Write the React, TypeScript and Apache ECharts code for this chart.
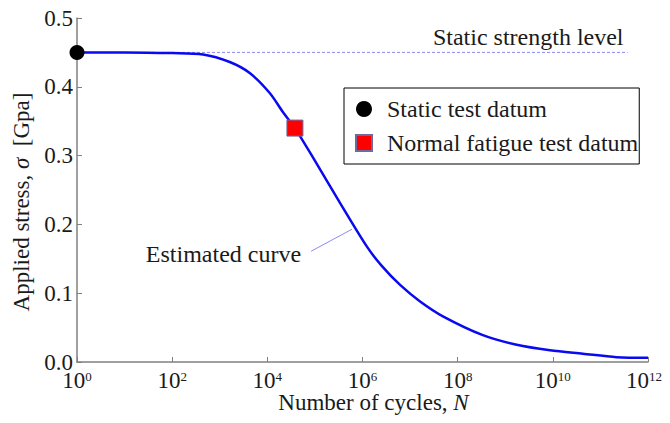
import React, { useEffect, useRef } from "react";
import * as echarts from "echarts";

// Estimated S-N curve: exponent of N (N = 10^exp) and applied stress [GPa]
const curveExp = [0, 1, 2, 2.65, 3.21, 3.63, 4.05, 4.33, 4.58, 5.03, 5.53, 6.09, 6.4, 6.79, 7.21, 7.7, 8.53, 9.24, 9.94, 10.63, 11.34, 12];
const curveStress = [0.45, 0.45, 0.449, 0.447, 0.436, 0.42, 0.391, 0.363, 0.34, 0.289, 0.231, 0.168, 0.14, 0.112, 0.088, 0.066, 0.039, 0.025, 0.017, 0.012, 0.007, 0.006];

// Test data
const staticExp = [0];
const staticStress = [0.45];
const fatigueExp = [4.58];
const fatigueStress = [0.34];

// Static strength level line
const staticLevel = 0.45;
const staticLineExp = [0, 11.57];

// Leader line for "Estimated curve"
const leaderExp = [4.92, 5.78];
const leaderStress = [0.161, 0.193];

// Axis ticks
const xTickExp = [0, 2, 4, 6, 8, 10, 12];
const yTicks = [0, 0.1, 0.2, 0.3, 0.4, 0.5];

const FONT = "Liberation Serif";
const TXT = "#1a1a1a";

const toN = (e: number) => Math.pow(10, e);

export default function App() {
  const ref = useRef<HTMLDivElement>(null);
  useEffect(() => {
    if (!ref.current) return;
    const chart = echarts.init(ref.current, null, { renderer: "svg" });
    const curve = curveExp.map((e, i) => [toN(e), curveStress[i]]);
    const lastExp = xTickExp[xTickExp.length - 1];
    const option = {
      animation: false,
      backgroundColor: "#fff",
      grid: { left: 77, right: 22, top: 18, bottom: 61, containLabel: false },
      legend: {
        left: 344,
        top: 88,
        orient: "vertical",
        padding: [9, 1, 9, 11],
        itemGap: 10,
        itemWidth: 16,
        itemHeight: 16,
        borderColor: "#000",
        borderWidth: 1,
        backgroundColor: "#fff",
        textStyle: { fontFamily: FONT, fontSize: 24, color: TXT, padding: [0, 0, 0, 10] },
        data: ["Static test datum", "Normal fatigue test datum"],
      },
      xAxis: {
        type: "log",
        logBase: 10,
        min: toN(xTickExp[0]),
        max: toN(lastExp),
        interval: 2,
        name: "{a|Number of cycles, }{i|N}",
        nameLocation: "middle",
        nameGap: 30,
        nameMoveOverlap: false,
        nameTextStyle: {
          padding: [0, 0, 0, 22],
          rich: {
            a: { fontFamily: FONT, fontSize: 23, color: TXT, lineHeight: 20 },
            i: { fontFamily: FONT, fontSize: 23, color: TXT, fontStyle: "italic", lineHeight: 20 },
          },
        },
        axisLine: { lineStyle: { color: "#808080", width: 1.5 } },
        axisTick: { inside: true, length: 5, lineStyle: { color: "#808080" } },
        splitLine: { show: false },
        minorTick: { show: false },
        axisLabel: {
          margin: 8,
          showMinLabel: true,
          showMaxLabel: true,
          formatter: (v: number) => {
            const e = Math.round(Math.log10(v));
            return e === lastExp ? `{b|10}{t|${e}}` : `{b|10}{s|${e}}`;
          },
          rich: {
            b: { fontFamily: FONT, fontSize: 23, color: TXT, lineHeight: 21 },
            s: { fontFamily: FONT, fontSize: 13, color: TXT, verticalAlign: "top" },
            t: { fontFamily: FONT, fontSize: 13, color: TXT, verticalAlign: "top", padding: [0, 8, 0, 0] },
          },
        },
      },
      yAxis: {
        type: "value",
        min: yTicks[0],
        max: yTicks[yTicks.length - 1],
        interval: 0.1,
        name: "{a|Applied stress, }{i|σ}{a|  [Gpa]}",
        nameLocation: "middle",
        nameGap: 44,
        nameMoveOverlap: false,
        nameTextStyle: {
          padding: [0, 24, 0, 0],
          rich: {
            a: { fontFamily: FONT, fontSize: 23, color: TXT },
            i: { fontFamily: FONT, fontSize: 23, color: TXT, fontStyle: "italic" },
          },
        },
        axisLine: { show: true, lineStyle: { color: "#808080", width: 1.5 } },
        axisTick: { show: true, inside: true, length: 5, lineStyle: { color: "#808080" } },
        splitLine: { show: false },
        axisLabel: {
          margin: 4,
          fontFamily: FONT,
          fontSize: 23,
          lineHeight: 16,
          color: TXT,
          formatter: (v: number) => v.toFixed(1),
        },
      },
      series: [
        {
          name: "Static strength level",
          type: "line",
          data: staticLineExp.map((e) => [toN(e), staticLevel]),
          symbol: "none",
          lineStyle: { color: "#8a8af0", width: 1, type: [3, 2] },
          z: 1,
        },
        {
          name: "static label",
          type: "scatter",
          data: [[toN(staticLineExp[1]), staticLevel]],
          symbolSize: 0,
          silent: true,
          itemStyle: { opacity: 1 },
          label: {
            show: true,
            position: "top",
            align: "right",
            offset: [-4, 0],
            distance: 3,
            formatter: "Static strength level",
            fontFamily: FONT,
            fontSize: 24,
            color: TXT,
          },
          z: 3,
        },
        {
          name: "Estimated curve",
          type: "line",
          data: curve,
          smooth: 0.3,
          symbol: "none",
          lineStyle: { color: "#0a0af0", width: 2.5 },
          z: 2,
        },
        {
          name: "leader",
          type: "line",
          data: leaderExp.map((e, i) => [toN(e), leaderStress[i]]),
          symbol: "none",
          lineStyle: { color: "#8a8af5", width: 1 },
          z: 2,
        },
        {
          name: "leader label",
          type: "scatter",
          data: [[toN(leaderExp[0]), leaderStress[0]]],
          symbolSize: 0,
          silent: true,
          itemStyle: { opacity: 1 },
          label: {
            show: true,
            position: "left",
            distance: 10,
            offset: [0, 3],
            formatter: "Estimated curve",
            fontFamily: FONT,
            fontSize: 24,
            color: TXT,
          },
          z: 3,
        },
        {
          name: "Static test datum",
          type: "scatter",
          data: staticExp.map((e, i) => [toN(e), staticStress[i]]),
          symbol: "circle",
          symbolSize: 15,
          itemStyle: { color: "#000", opacity: 1 },
          clip: false,
          z: 5,
        },
        {
          name: "Normal fatigue test datum",
          type: "scatter",
          data: fatigueExp.map((e, i) => [toN(e), fatigueStress[i]]),
          symbol: "rect",
          symbolSize: 16,
          itemStyle: { color: "#ff0000", borderColor: "#6b6ba0", borderWidth: 1, opacity: 1 },
          clip: false,
          z: 5,
        },
      ],
    };
    chart.setOption(option as any);
    return () => chart.dispose();
  }, []);
  return <div ref={ref} style={{ width: 670, height: 423, margin: -8 }} />;
}
